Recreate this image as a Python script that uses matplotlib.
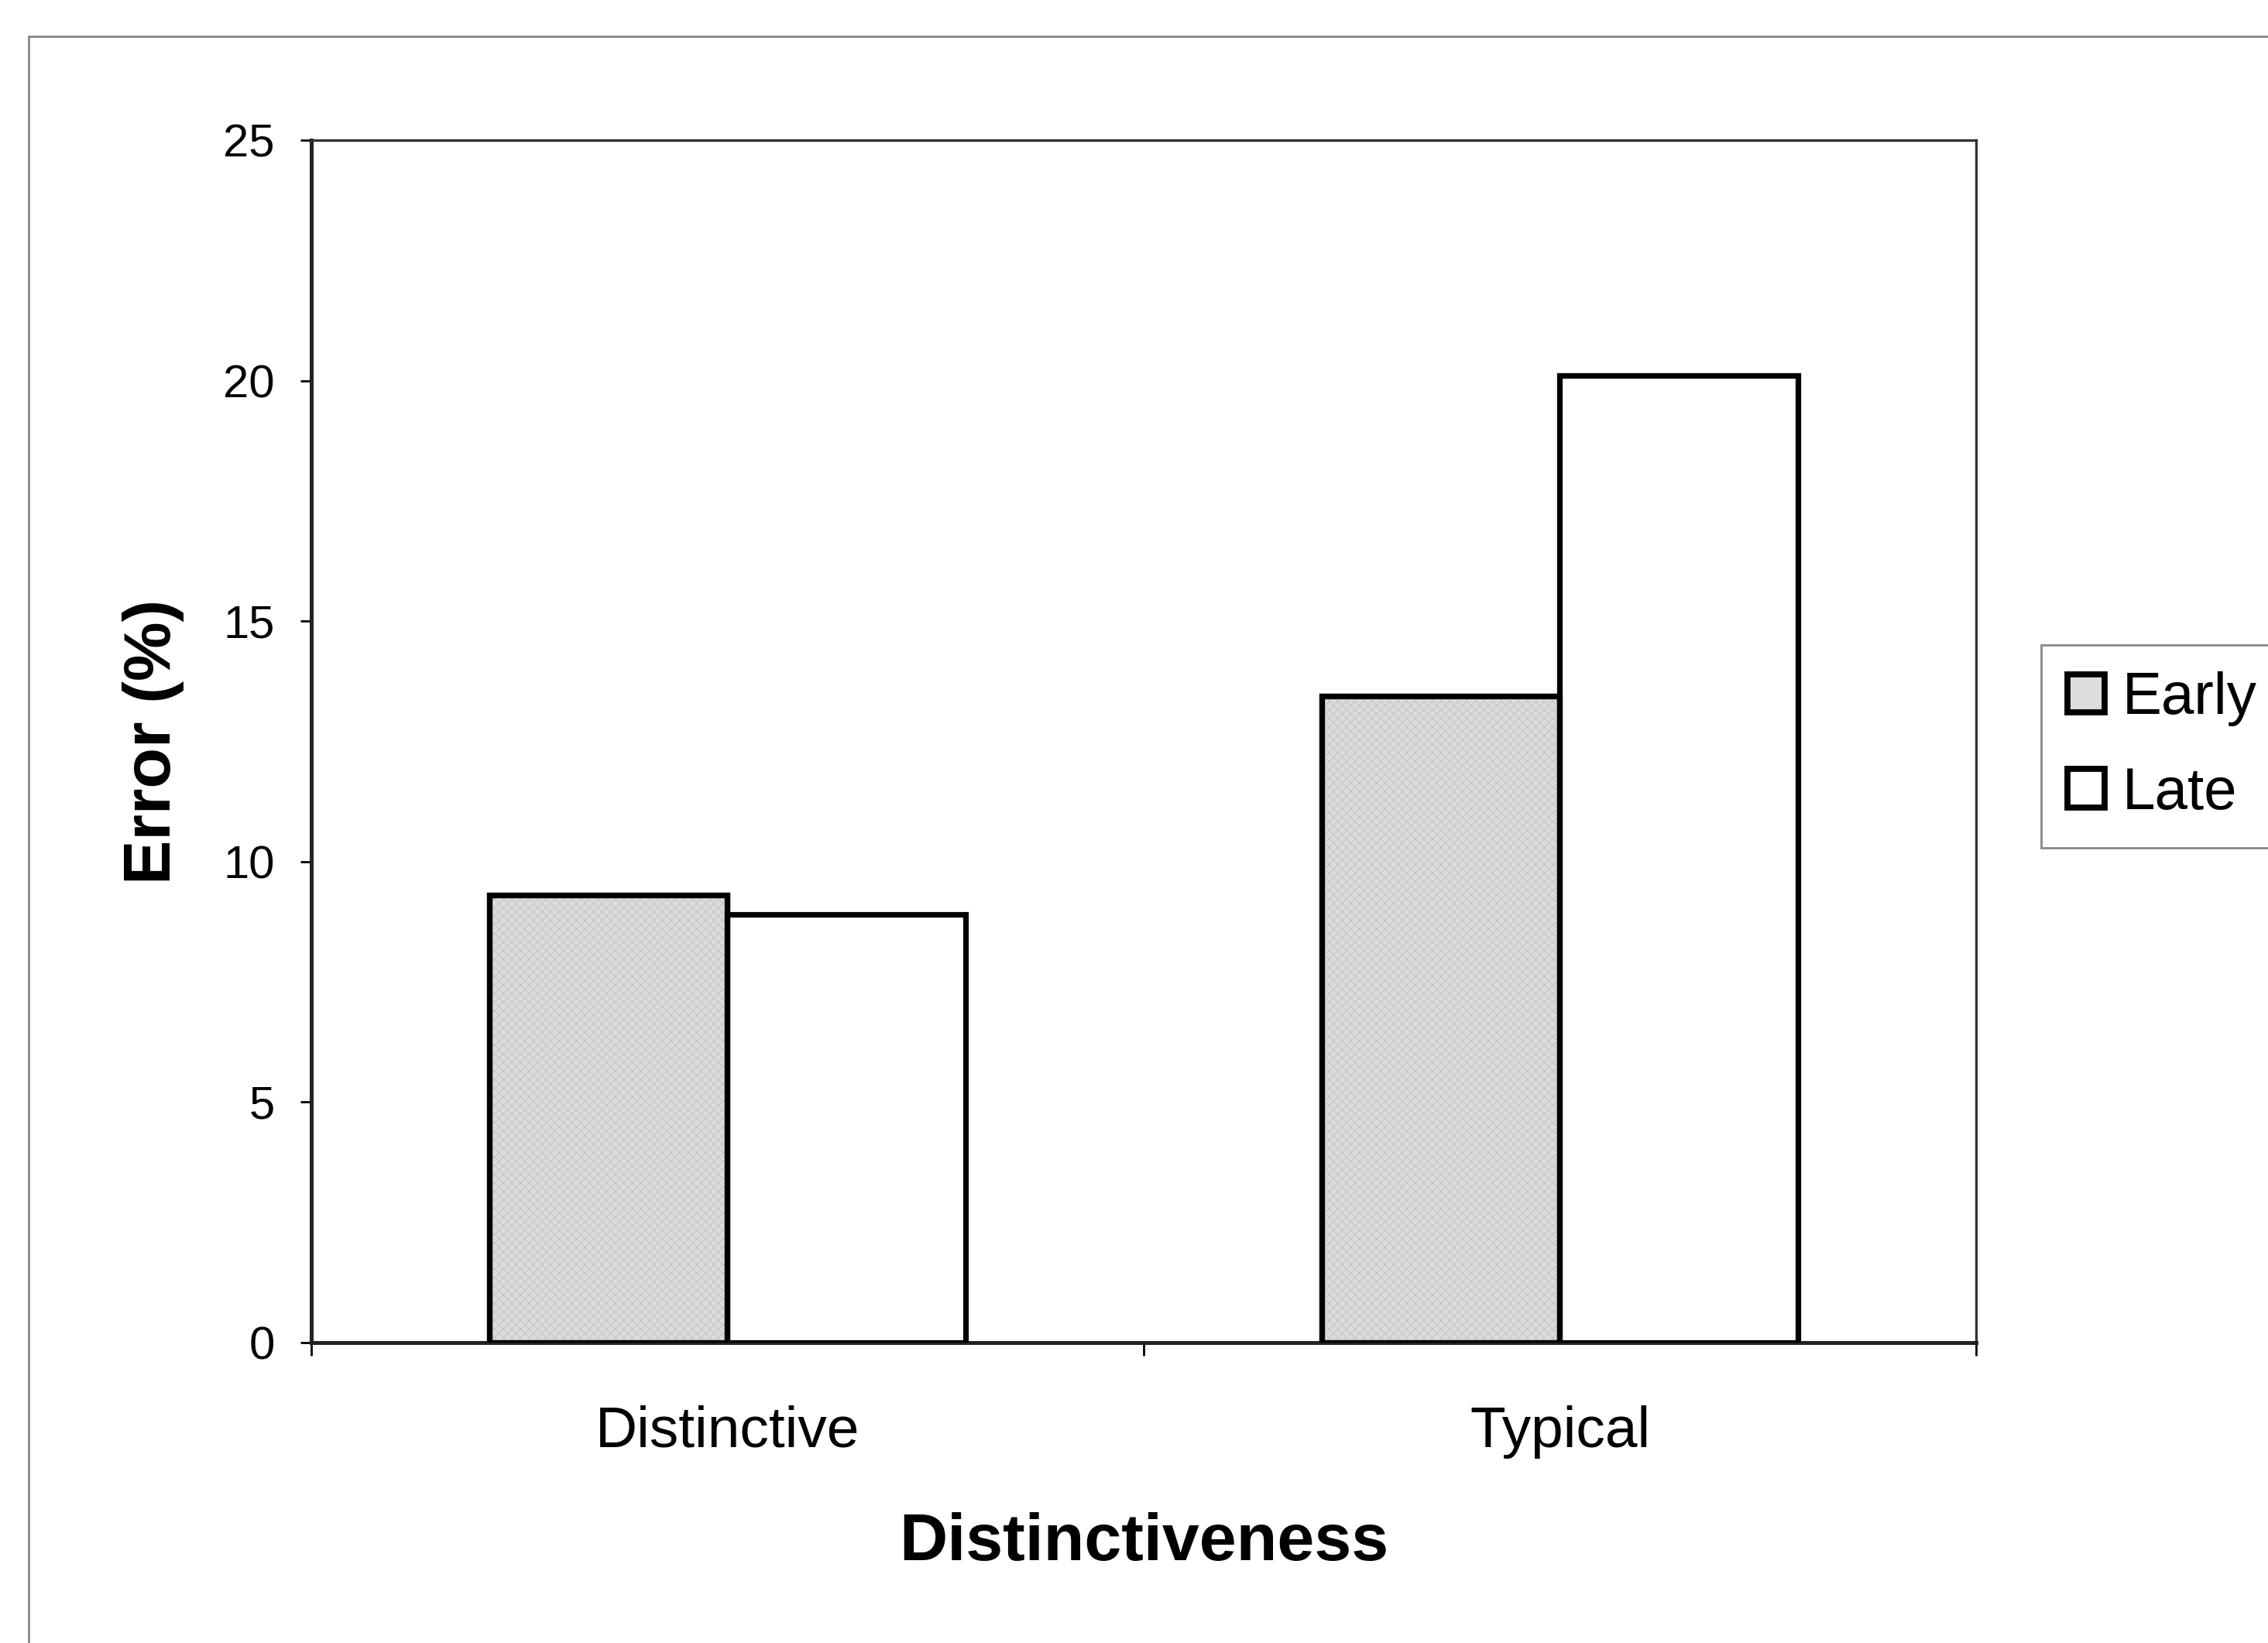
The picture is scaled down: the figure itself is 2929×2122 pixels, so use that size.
import matplotlib
matplotlib.use("Agg")
import matplotlib.pyplot as plt
from matplotlib.patches import Rectangle
import numpy as np

plt.rcParams['font.family'] = ['Liberation Sans', 'DejaVu Sans']
plt.rcParams['hatch.linewidth'] = 0.4

categories = ["Distinctive", "Typical"]
early = [9.3, 13.45]
late = [8.9, 20.1]
series_names = ["Early", "Late"]
yticks = [0, 5, 10, 15, 20, 25]

fig = plt.figure(figsize=(14.645, 10.61), dpi=200)
fig.patch.set_facecolor("white")

# chart area border (runs off the right and bottom of the page)
fig.patches.append(Rectangle((37 / 2929, -0.1), 1.2, 1 - 47 / 2122 + 0.1,
                             transform=fig.transFigure, fill=False,
                             edgecolor="#888888", linewidth=1.0))

ax = fig.add_axes([0.1372, 0.1828, 0.8713 - 0.1372, 0.9147 - 0.1828])

x = np.arange(len(categories))
width = 0.2857
b1 = ax.bar(x - width / 2, early, width, color="#dcdcdc", edgecolor="black",
            linewidth=2.6, label=series_names[0], zorder=3)
b2 = ax.bar(x + width / 2, late, width, color="white", edgecolor="black",
            linewidth=2.6, label=series_names[1], zorder=3)

# fine light-grey crosshatch over the grey bars, outline redrawn on top
for p in b1:
    ax.add_patch(Rectangle(p.get_xy(), p.get_width(), p.get_height(),
                           fill=False, hatch="xxxxxx", edgecolor="#c6c6c6",
                           linewidth=0, zorder=3.5))
    ax.add_patch(Rectangle(p.get_xy(), p.get_width(), p.get_height(),
                           fill=False, edgecolor="black", linewidth=2.6,
                           zorder=4))

ax.set_xlim(-0.5, 1.5)
ax.set_ylim(0, 25)
ax.set_yticks(yticks)
ax.set_yticklabels([str(t) for t in yticks], fontsize=21.5)
ax.set_xticks([-0.5, 0.5, 1.5], minor=False)
ax.set_xticklabels([])
ax.set_xticks(x, minor=True)
ax.set_xticklabels(categories, minor=True, fontsize=27)
ax.tick_params(axis="x", which="major", direction="out", length=6, width=1.0)
ax.tick_params(axis="x", which="minor", length=0, pad=29)
ax.tick_params(axis="y", direction="out", length=5, width=1.0, pad=12)

for s in ["top", "right"]:
    ax.spines[s].set_linewidth(1.2)
    ax.spines[s].set_color("#333333")
for s in ["left", "bottom"]:
    ax.spines[s].set_linewidth(1.8)
    ax.spines[s].set_color("#222222")

ax.set_ylabel("Error (%)", fontsize=31, fontweight="bold", labelpad=18)
ax.set_xlabel("Distinctiveness", fontsize=31, fontweight="bold", labelpad=25)

leg = fig.legend(loc="upper left", bbox_to_anchor=(0.900, 0.6074),
                 bbox_transform=fig.transFigure, borderaxespad=0,
                 fontsize=27.5, handlelength=0.62, handleheight=0.62,
                 handletextpad=0.3, borderpad=0.45, labelspacing=0.67,
                 fancybox=False, framealpha=1, edgecolor="#888888")
leg.get_frame().set_linewidth(1.0)
for h in leg.legend_handles:
    h.set_linewidth(2.8)

fig.savefig("out.png", dpi=200)
